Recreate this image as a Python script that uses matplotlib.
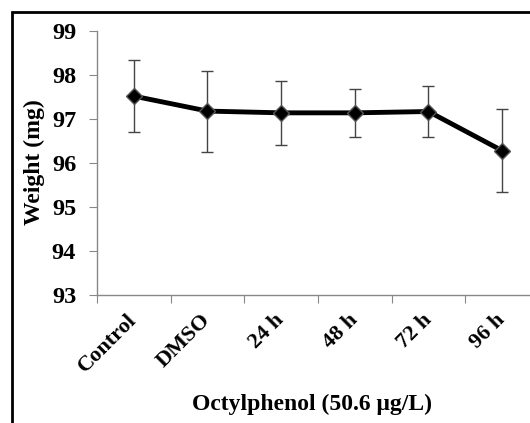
import matplotlib.pyplot as plt
from matplotlib.patches import Rectangle

# datos
groups = ["Control", "DMSO", "24 h", "48 h", "72 h", "96 h"]
weight = [97.52, 97.18, 97.14, 97.14, 97.17, 96.28]
err = [0.82, 0.92, 0.72, 0.54, 0.59, 0.95]

plt.rcParams['font.family'] = ['Liberation Serif', 'DejaVu Serif']
plt.rcParams['font.weight'] = 'bold'

fig = plt.figure(figsize=(5.3, 4.23), dpi=100)
ax = fig.add_axes([97 / 530, 128 / 423, 442 / 530, 264 / 423])

x = list(range(len(groups)))
ax.errorbar(x, weight, yerr=err, fmt='none', ecolor='#444444',
            elinewidth=1, capsize=4, capthick=1, zorder=2)
ax.plot(x, weight, color='black', lw=3.5, zorder=3)
ax.plot(x, weight, ls='none', marker='D', ms=8, mfc='black',
        mec='#555555', mew=1, zorder=4)

ax.set_xlim(-0.5, 5.5)
ax.set_ylim(93, 99)
ax.set_yticks(range(93, 100))
ax.set_xticks([i - 0.5 for i in range(7)], minor=False)
ax.set_xticklabels([])
ax.set_xticks(x, minor=True)
ax.set_xticklabels(groups, minor=True, rotation=45, ha='right', va='center',
                   rotation_mode='anchor', fontsize=16, fontweight='bold')
ax.tick_params(axis='x', which='minor', length=0, pad=16)
ax.tick_params(axis='x', which='major', length=6, color='#888888')
ax.tick_params(axis='y', length=6, color='#888888', labelsize=17.5, pad=9)
for lab in ax.get_yticklabels():
    lab.set_fontweight('bold')

for s in ['top', 'right']:
    ax.spines[s].set_visible(False)
for s in ['left', 'bottom']:
    ax.spines[s].set_color('#888888')
    ax.spines[s].set_linewidth(1)

fig.text(34 / 530, 1 - 162 / 423, "Weight (mg)", rotation=90, ha='center',
         va='center', fontsize=17, fontweight='bold')
fig.text(312 / 530, 1 - 404 / 423, "Octylphenol (50.6 μg/L)", ha='center',
         va='center', fontsize=17, fontweight='bold')

# marco exterior
fig.patches.append(Rectangle((12 / 530, -0.05), 1.0, 1 - 12 / 423 + 0.05,
                             fill=False, edgecolor='black', lw=2,
                             transform=fig.transFigure, figure=fig))

fig.savefig("out.png", dpi=100)
